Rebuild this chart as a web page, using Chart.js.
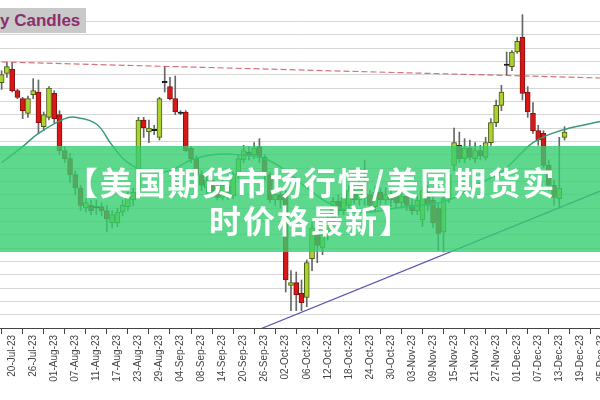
<!DOCTYPE html>
<html>
<head>
<meta charset="utf-8">
<title>Daily Candles</title>
<script src="https://cdn.jsdelivr.net/npm/chart.js@4.4.0/dist/chart.umd.min.js"></script>
<style>
  html, body { margin: 0; padding: 0; background: #fff; }
  #wrap { position: relative; width: 600px; height: 400px; overflow: hidden; }
  #chart { position: absolute; left: -1px; top: 0; }
  #title {
    position: absolute; left: 0; top: 8px; width: 86px; height: 25px;
    background: #c9c9c9; color: #8c2f6c;
    font: bold 17px "Liberation Sans", Arial, sans-serif; line-height: 25px;
    white-space: nowrap; overflow: hidden;
  }
  #banner {
    position: absolute; left: 0; top: 146px; width: 600px; height: 106px;
    background: rgba(52, 206, 112, 0.8);
  }
  #banner .txt {
    position: absolute; left: 22px; width: 578px; top: 16px;
    text-align: center; color: #fff;
    font: bold 32px "Noto Sans CJK SC", sans-serif; line-height: 38px; letter-spacing: 2px;
  }
</style>
</head>
<body>
<div id="wrap">
  <canvas id="chart" width="605" height="400"></canvas>
  <div id="title">y Candles</div>
  <div id="banner"><div class="txt">【美国期货市场行情/美国期货实<br>时价格最新】</div></div>
</div>
<script>
// weekday calendar shown on the x axis (18-Jul-23 .. 25-Dec-23)
const MONTHS = ['Jan','Feb','Mar','Apr','May','Jun','Jul','Aug','Sep','Oct','Nov','Dec'];
function buildDates(start, count) {
    const out = [];
    const d = new Date(start + 'T00:00:00Z');
    while (out.length < count) {
        const wd = d.getUTCDay();
        if (wd !== 0 && wd !== 6) {
            const dd = String(d.getUTCDate()).padStart(2, '0');
            out.push(dd + '-' + MONTHS[d.getUTCMonth()] + '-' + String(d.getUTCFullYear()).slice(2));
        }
        d.setUTCDate(d.getUTCDate() + 1);
    }
    return out;
}
const dates = buildDates('2023-07-18', 115);

// daily candles
const opens = [4384,4391,4394,4378,4372,4361,4375,4377,4351,4358,4376,4360,4333,4327,4315,4305,4290,4292,4290,4291,
    4288,4279,4279,4287,4291,4296,4303,4356,4347,4348,4343,4384,4381,4372,4362,4362,4335,4327,4315,4305,
    4311,4306,4298,4306,4299,4315,4326,4332,4330,4336,4328,4315,4296,4300,4300,4232,4234,4226,4223,4252,
    4273,4260,4269,4283,4295,4288,4292,4303,4296,4309,4300,4291,4302,4296,4300,4300,4294,4299,4292,4288,
    4281,4303,4296,4290,4272,4297,4322,4337,4327,4335,4327,4333,4328,4339,4354,4367,4398,4396,4407,4418,
    4377,4361,4348,4346,4322,4307,4297,4343];
const closes = [4390,4396,4378,4373,4363,4372,4378,4354,4360,4380,4357,4333,4327,4315,4305,4292,4294,4288,4291,4288,
    4282,4285,4287,4292,4298,4302,4356,4350,4350,4349,4372,4385,4372,4362,4361,4333,4327,4315,4307,4311,
    4303,4298,4307,4299,4315,4327,4333,4330,4335,4328,4315,4296,4300,4296,4236,4234,4225,4219,4249,4275,
    4262,4270,4281,4295,4288,4298,4303,4296,4309,4300,4292,4302,4296,4300,4296,4294,4299,4292,4288,4296,
    4303,4292,4279,4271,4297,4315,4339,4327,4335,4328,4333,4329,4339,4354,4367,4377,4397,4407,4415,4376,
    4362,4348,4341,4322,4307,4298,4305,4347];
const highs = [4393,4399,4399,4379,4373,4374,4387,4386,4362,4381,4378,4363,4336,4331,4318,4307,4297,4296,4296,4294,
    4292,4288,4290,4296,4302,4305,4358,4358,4356,4352,4373,4396,4388,4389,4363,4363,4336,4329,4318,4315,
    4314,4309,4311,4309,4317,4330,4337,4336,4339,4342,4330,4317,4303,4302,4303,4243,4242,4236,4251,4279,
    4277,4273,4285,4298,4300,4301,4307,4307,4315,4326,4303,4306,4305,4305,4303,4303,4302,4302,4297,4300,
    4306,4307,4300,4294,4302,4318,4350,4347,4342,4341,4339,4337,4343,4357,4371,4382,4407,4408,4418,4435,
    4381,4369,4352,4348,4326,4311,4343,4351];
const lows = [4379,4388,4377,4372,4357,4358,4372,4346,4348,4356,4354,4330,4324,4309,4300,4288,4287,4285,4285,4284,
    4272,4275,4276,4284,4288,4292,4301,4343,4339,4345,4341,4377,4371,4360,4360,4332,4324,4309,4303,4300,
    4300,4296,4296,4296,4297,4312,4324,4326,4327,4324,4311,4294,4292,4290,4227,4213,4213,4213,4216,4243,
    4249,4255,4266,4279,4285,4285,4290,4293,4292,4292,4287,4287,4292,4293,4291,4290,4290,4288,4285,4285,
    4276,4288,4275,4258,4257,4294,4318,4324,4324,4326,4324,4326,4326,4337,4351,4363,4390,4393,4406,4371,
    4358,4346,4337,4320,4303,4292,4291,4341];

// moving average, sampled at these day indexes
const maDays = [0,4,7,12,14,18,21,24,28,32,36,40,45,50,54,58,62,66,70,75,80,85,90,95,99,101,104,108,114];
const maValues = [4324,4336,4346,4357,4358,4353,4337,4324,4317,4318,4326,4330,4330,4327,4318,4305,4294,4288,4287,4290,
    4292,4296,4307,4317,4332,4339,4345,4350,4355];

// resistance (dashed) and rising trend line end points
const resistDays = [0, 114];
const resistValues = [4399.5, 4387.5];
const trendDays = [49, 114];
const trendValues = [4199, 4303];

const UP = '#acd232', DOWN = '#d81818', DOJI = '#111111';

function candleColors() {
    const fill = [], edge = [];
    for (let i = 0; i < opens.length; i++) {
        const diff = closes[i] - opens[i];
        if (Math.abs(diff) <= 1) { fill.push(DOJI); edge.push(DOJI); }
        else if (diff > 0) { fill.push(UP); edge.push('#4a5a12'); }
        else { fill.push(DOWN); edge.push('#8a1010'); }
    }
    return { fill, edge };
}

function buildChart() {
    const colors = candleColors();
    const bodies = dates.map((d, i) => i < opens.length ? [opens[i], closes[i]] : null);
    const wicks = dates.map((d, i) => i < lows.length ? [lows[i], highs[i]] : null);
    const toPoints = (days, vals) => days.map((d, k) => ({ x: dates[d], y: vals[k] }));

    Chart.defaults.font.family = '"Liberation Sans", Arial, sans-serif';

    new Chart(document.getElementById('chart'), {
        type: 'bar',
        data: {
            labels: dates,
            datasets: [
                {
                    type: 'line',
                    data: toPoints(maDays, maValues),
                    borderColor: '#3a9a78',
                    borderWidth: 1.5,
                    pointRadius: 0,
                    tension: 0.4,
                    order: 1
                },
                {
                    type: 'line',
                    data: toPoints(resistDays, resistValues),
                    borderColor: 'rgba(200, 70, 80, 0.75)',
                    borderWidth: 1.2,
                    borderDash: [6, 3],
                    pointRadius: 0,
                    order: 1
                },
                {
                    type: 'line',
                    data: toPoints(trendDays, trendValues),
                    borderColor: '#5a58b4',
                    borderWidth: 1.2,
                    pointRadius: 0,
                    order: 1
                },
                {
                    data: bodies,
                    backgroundColor: colors.fill,
                    borderColor: colors.edge,
                    borderWidth: 1,
                    borderSkipped: false,
                    barThickness: 5,
                    grouped: false,
                    order: 2
                },
                {
                    data: wicks,
                    backgroundColor: '#666666',
                    barThickness: 1,
                    grouped: false,
                    order: 3
                }
            ]
        },
        options: {
            responsive: false,
            animation: false,
            devicePixelRatio: 1,
            layout: { padding: 0 },
            plugins: {
                legend: { display: false },
                tooltip: { enabled: false }
            },
            scales: {
                x: {
                    offset: true,
                    grid: { drawOnChartArea: false, offset: true, color: '#444', tickLength: 6 },
                    border: { display: true, color: '#444', width: 1 },
                    ticks: {
                        autoSkip: false,
                        maxRotation: 90,
                        minRotation: 90,
                        padding: 1,
                        color: '#444',
                        font: { size: 10 },
                        callback: function (val) {
                            return val % 4 === 2 ? this.getLabelForValue(val) : null;
                        }
                    },
                    afterFit: function (scale) {
                        scale.height = 72;
                        scale.paddingLeft = 0;
                        scale.paddingRight = 0;
                    }
                },
                y: {
                    min: 4200,
                    max: 4446,
                    ticks: { display: false, stepSize: 10 },
                    border: { display: false },
                    grid: {
                        drawTicks: false,
                        lineWidth: 1,
                        color: ctx => (ctx.tick && ctx.tick.value % 10 === 0) ? '#d6d6d6' : 'rgba(0,0,0,0)'
                    },
                    afterFit: function (scale) { scale.width = 0; }
                }
            }
        }
    });
}

buildChart();
</script>
</body>
</html>
